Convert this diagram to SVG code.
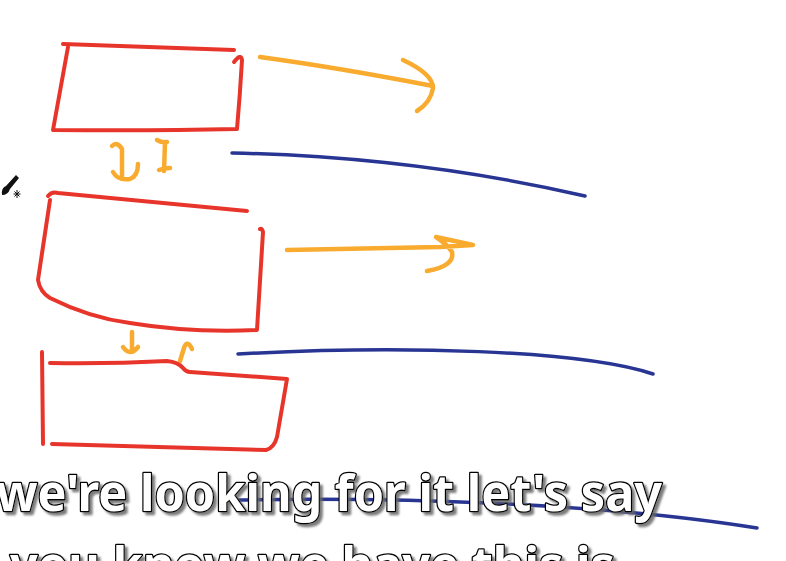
<svg xmlns="http://www.w3.org/2000/svg" width="786" height="561" viewBox="0 0 786 561">
<defs>
<filter id="sh" x="-5%" y="-20%" width="110%" height="150%">
<feDropShadow dx="3" dy="3" stdDeviation="0.8" flood-color="#666" flood-opacity="0.85"/>
</filter>
</defs>
<style>
.red{fill:none;stroke:#e8352b;stroke-width:4;stroke-linecap:round;stroke-linejoin:round}
.org{fill:none;stroke:#f8ab2e;stroke-width:4.5;stroke-linecap:round;stroke-linejoin:round}
.blu{fill:none;stroke:#283593;stroke-width:3.5;stroke-linecap:round;stroke-linejoin:round}
.cap{font-family:"Noto Sans","DejaVu Sans",sans-serif;font-weight:700;font-size:51px;fill:#fff;stroke:#000;stroke-width:2.6;paint-order:stroke;stroke-linejoin:round}
</style>
<rect width="786" height="561" fill="#fff"/>
<g id="connectors">
<path class="org" d="M260,57 Q340,68 433,86"/>
<path class="org" d="M403,60 Q433,74 433,88 Q431,102 417,111"/>
<path class="org" d="M287,250 L440,247 L473,245 L436,237 Q447,244 452,252 Q455,266 427,271"/>
<path class="blu" d="M232,153 C330,155 450,165 585,196"/>
<path class="blu" d="M238,354 C400,345 580,350 653,374"/>
<path class="blu" d="M235,500 C400,497 600,503 757,528"/>
<path class="org" d="M112,146 Q117,141 122,149 L122,177 M113,172 Q118,181 130,179 Q138,176 138,164"/>
<path class="org" d="M157,140 Q162,143 167,142 M165,142 L164,171 M159,170 Q164,168 170,168"/>
<path class="org" d="M132,332 L132,350 M123,347 Q130,357 138,347"/>
<path class="org" d="M180,361 L184,348 Q187,339 192,349"/>
</g>
<g id="box1">
<path class="red" d="M63,44 L234,50"/>
<path class="red" d="M68,47 L53,130 Q150,131 237,129 Q240,95 242,60 Q241,53 234,62"/>
</g>
<g id="box2">
<path class="red" d="M48,196 Q52,191 58,193 L247,211"/>
<path class="red" d="M50,200 L38,280 Q40,292 50,298 Q90,318 130,323 Q190,333 257,330 L263,232 Q262,228 260,229"/>
</g>
<g id="box3">
<path class="red" d="M42,352 L43,444"/>
<path class="red" d="M50,363 Q110,364 167,361 Q178,362 183,368 Q186,372 190,372 L287,379 L277,437 Q274,448 266,450 L52,444"/>
</g>
<g id="cursor">
<path d="M2,195 Q1,188 6,186 L16,175 L19,178 L10,189 Q8,195 2,195 Z" fill="#111"/>
<path d="M17,190 L17,198 M13.5,194 L20.5,194 M14.5,191.5 L19.5,196.5 M19.5,191.5 L14.5,196.5" stroke="#111" stroke-width="1"/>
</g>
<g id="caption" class="cap" filter="url(#sh)">
<text x="-4" y="511" textLength="666" lengthAdjust="spacingAndGlyphs">we're looking for it let's say</text>
<text x="10" y="583" textLength="605" lengthAdjust="spacingAndGlyphs">you know we have this is</text>
</g>
</svg>
